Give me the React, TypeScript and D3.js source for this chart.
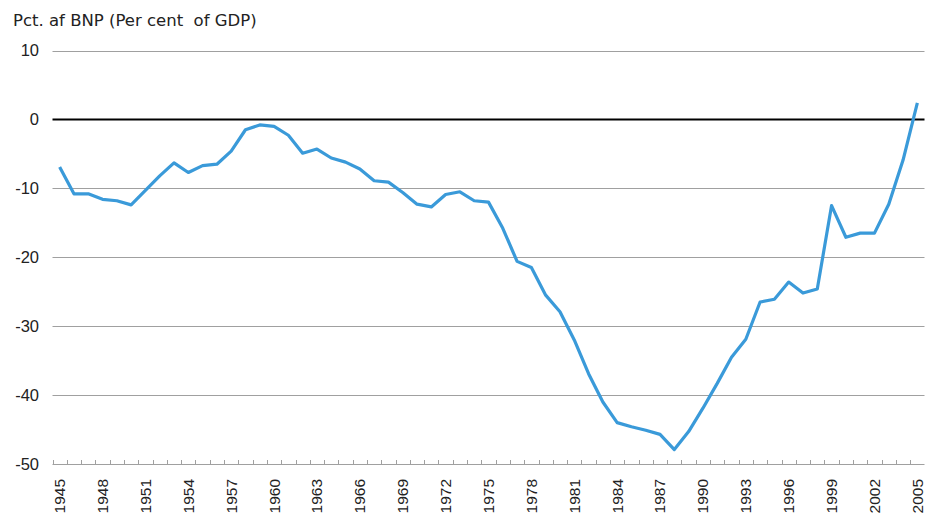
import * as d3 from "d3";
import { useEffect, useRef } from "react";

// Danish net foreign debt, pct. of GDP, 1945-2005
const years: number[] = d3.range(1945, 2006);
const debt: number[] = [
  -6.9, -10.8, -10.8, -11.6, -11.8, -12.4, -10.3, -8.2, -6.3, -7.7,
  -6.7, -6.5, -4.6, -1.5, -0.8, -1.0, -2.3, -4.9, -4.3, -5.6,
  -6.2, -7.2, -8.9, -9.1, -10.6, -12.3, -12.7, -10.9, -10.5, -11.8,
  -12.0, -15.8, -20.6, -21.5, -25.5, -27.9, -32.0, -36.9, -41.0, -44.0,
  -44.6, -45.1, -45.7, -47.9, -45.3, -41.9, -38.3, -34.5, -31.9, -26.5,
  -26.1, -23.6, -25.2, -24.6, -12.5, -17.1, -16.5, -16.5, -12.3, -5.9,
  2.4,
];
const yTicks: number[] = [10, 0, -10, -20, -30, -40, -50];
const labelYears: number[] = years.filter((y) => (y - 1945) % 3 === 0);
const title = "Pct. af BNP (Per cent  of GDP)";

const W = 925;
const H = 517;
const font = "'Liberation Sans', Arial, sans-serif";
const titleFont = "'DejaVu Sans', 'Liberation Sans', sans-serif";

const App = () => {
  const ref = useRef<SVGSVGElement>(null);

  useEffect(() => {
    const svg = d3.select(ref.current);
    svg.selectAll("*").remove();

    const x = d3.scaleBand<number>().domain(years).range([52.5, 924.5]).padding(0);
    const y = d3.scaleLinear().domain([-50, 10]).range([464, 50.5]);
    const cx = (d: number) => (x(d) as number) + x.bandwidth() / 2;

    svg.append("text")
      .attr("x", 13)
      .attr("y", 26)
      .attr("font-family", titleFont)
      .attr("font-size", 16.5)
      .attr("fill", "#222")
      .style("white-space", "pre")
      .text(title);

    // horizontal grid
    svg.append("g")
      .selectAll("line")
      .data(yTicks.filter((t) => t !== 0))
      .enter()
      .append("line")
      .attr("x1", 52.5)
      .attr("x2", 924.5)
      .attr("y1", (d) => Math.round(y(d)) + 0.5)
      .attr("y2", (d) => Math.round(y(d)) + 0.5)
      .attr("stroke", "#a0a0a0")
      .attr("stroke-width", 1);

    // y labels
    svg.append("g")
      .selectAll("text")
      .data(yTicks)
      .enter()
      .append("text")
      .attr("x", 39)
      .attr("y", (d) => y(d))
      .attr("dy", "0.35em")
      .attr("text-anchor", "end")
      .attr("font-family", font)
      .attr("font-size", 16.5)
      .attr("fill", "#222")
      .text((d) => d);

    // x axis ticks (between categories)
    const bounds = years.map((d) => x(d) as number).concat([924.5]);
    svg.append("g")
      .selectAll("line")
      .data(bounds)
      .enter()
      .append("line")
      .attr("x1", (d) => Math.round(d) + 0.5)
      .attr("x2", (d) => Math.round(d) + 0.5)
      .attr("y1", Math.round(y(-50)) - 4)
      .attr("y2", Math.round(y(-50)) + 0.5)
      .attr("stroke", "#a0a0a0")
      .attr("stroke-width", 1);

    svg.append("g")
      .selectAll("text")
      .data(labelYears)
      .enter()
      .append("text")
      .attr("transform", (d) => `translate(${cx(d)},479) rotate(-90)`)
      .attr("dy", "0.35em")
      .attr("text-anchor", "end")
      .attr("font-family", font)
      .attr("font-size", 15.5)
      .attr("fill", "#222")
      .text((d) => d);

    // zero line
    svg.append("line")
      .attr("x1", 52.5)
      .attr("x2", 924.5)
      .attr("y1", y(0))
      .attr("y2", y(0))
      .attr("stroke", "#000")
      .attr("stroke-width", 2);

    const line = d3.line<number>()
      .x((_, i) => cx(years[i]))
      .y((d) => y(d));

    svg.append("path")
      .datum(debt)
      .attr("d", line)
      .attr("fill", "none")
      .attr("stroke", "#3a9ad9")
      .attr("stroke-width", 3.2)
      .attr("stroke-linejoin", "round");
  }, []);

  return <svg ref={ref} width={W} height={H} style={{ position: "absolute", left: 0, top: 0 }} />;
};

export default App;
